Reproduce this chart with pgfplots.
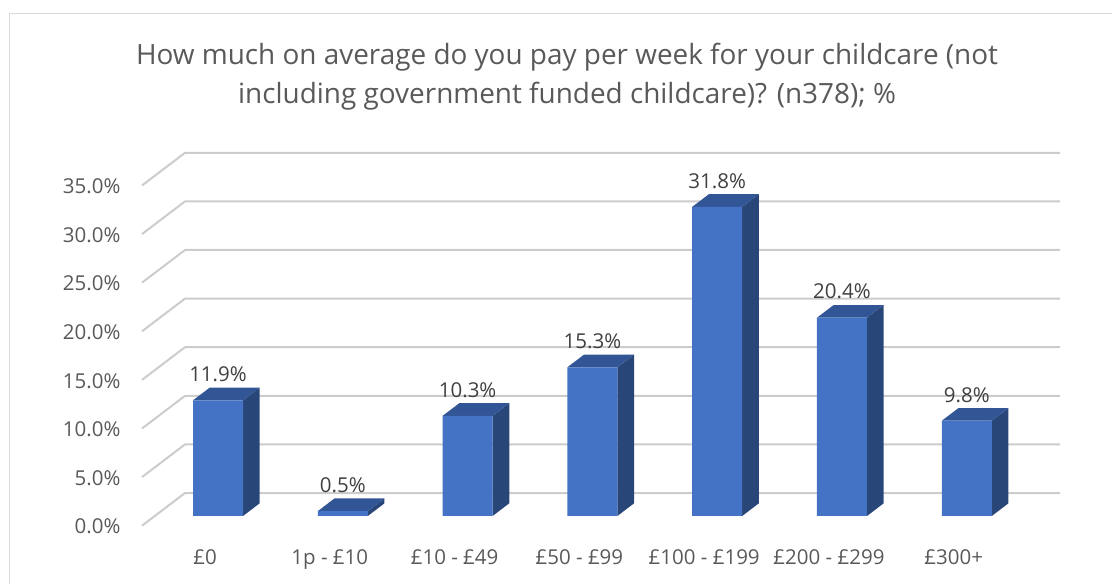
\documentclass[border=0pt]{standalone}
\usepackage{fontspec}
\setmainfont{Open Sans}
\usepackage{pgfplots}
\usepackage{pgfplotstable}
\pgfplotsset{compat=1.18}
\definecolor{barfront}{HTML}{4472C4}
\definecolor{bartop}{HTML}{325596}
\definecolor{barside}{HTML}{294679}
\definecolor{gridc}{HTML}{CCCCCC}
\definecolor{framec}{HTML}{D9D9D9}
\definecolor{tickc}{HTML}{595959}
\definecolor{labc}{HTML}{404040}
\pgfplotstableread{
x y
0 11.9
1 0.5
2 10.3
3 15.3
4 31.8
5 20.4
6 9.8
}\valuetable
% one grid level: floor-side slope + back wall line
\newcommand\gridlevel[1]{%
  \pgfmathsetmacro\gb{#1+3.364}%
  \edef\temp{\noexpand\addplot[gridc,line width=2pt,line join=bevel] coordinates {(-0.609,#1) (-0.2644,\gb) (6.747,\gb)};}\temp
}
% 3D faces of a bar
\newcommand\barfaces[2]{%
  \pgfmathsetmacro\xl{#1-0.2003}%
  \pgfmathsetmacro\xr{#1+0.2003}%
  \pgfmathsetmacro\xls{#1-0.2003+0.1338}%
  \pgfmathsetmacro\xrs{#1+0.2003+0.1338}%
  \pgfmathsetmacro\ys{#2+1.307}%
  \edef\temp{\noexpand\addplot[fill=barside,draw=none,yshift=9.7pt] coordinates {(\xr,0) (\xrs,1.307) (\xrs,\ys) (\xr,#2)} -- cycle;}\temp
  \edef\temp{\noexpand\addplot[fill=bartop,draw=none,yshift=9.7pt] coordinates {(\xl,#2) (\xls,\ys) (\xrs,\ys) (\xr,#2)} -- cycle;}\temp
}
\begin{document}
\begin{tikzpicture}[x=1pt,y=1pt]
\path[use as bounding box] (0,0) rectangle (1112,584);
\draw[framec,line width=1.6pt] (9.5,0) -- (9.5,570.5) -- (1112,570.5);
\begin{axis}[
  at={(142pt,58.3pt)},anchor=south west,
  scale only axis,width=918pt,height=372.9pt,
  xmin=-0.609,xmax=6.747,ymin=0,ymax=38.364,
  clip=false,
  axis line style={draw=none},
  major tick length=0pt,
  xtick={0,1,2,3,4,5,6},
  xticklabels={£0,1p - £10,£10 - £49,£50 - £99,£100 - £199,£200 - £299,£300+},
  ytick={0,5,10,15,20,25,30,35},
  yticklabel={\pgfmathprintnumber[fixed,fixed zerofill,precision=1,/pgf/number format/assume math mode=true]{\tick}\%},
  ticklabel style={font=\fontsize{20.5}{23}\selectfont,text=tickc},
  yticklabel style={xshift=-18pt,yshift=-1pt},
  xticklabel style={xshift=-13pt,yshift=-20pt,text height=15pt,text depth=4pt,font=\fontsize{20.5}{23}\selectfont},
  title={How much on average do you pay per week for your childcare (not\\including government funded childcare)? (n378); \%},
  title style={at={(axis description cs:0.463,1)},anchor=south,yshift=33pt,align=center,text=tickc,font=\fontsize{27.9}{39}\selectfont},
]
\gridlevel{0}\gridlevel{5}\gridlevel{10}\gridlevel{15}\gridlevel{20}\gridlevel{25}\gridlevel{30}\gridlevel{35}
\barfaces{0}{11.9}
\barfaces{1}{0.5}
\barfaces{2}{10.3}
\barfaces{3}{15.3}
\barfaces{4}{31.8}
\barfaces{5}{20.4}
\barfaces{6}{9.8}
\addplot[ybar,bar width=50pt,bar shift=0pt,fill=barfront,draw=none,yshift=9.7pt,
  nodes near coords={\pgfmathprintnumber[fixed,fixed zerofill,precision=1,/pgf/number format/assume math mode=true]{\pgfplotspointmeta}\%},
  nodes near coords style={font=\fontsize{20.5}{23}\selectfont,text=labc,anchor=center,yshift=26pt},
  point meta=y] table[x=x,y=y] {\valuetable};
\end{axis}
\end{tikzpicture}
\end{document}
